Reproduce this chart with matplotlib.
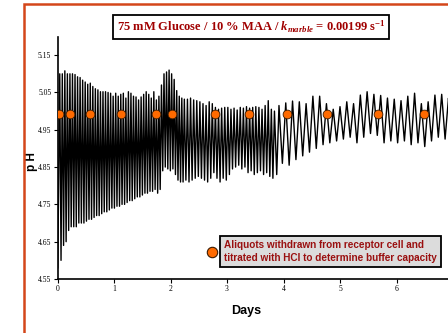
import numpy as np
import matplotlib
matplotlib.use('Agg')
import matplotlib.pyplot as plt
from matplotlib.lines import Line2D
from matplotlib.patches import Rectangle

plt.rcParams['mathtext.fontset'] = 'custom'
plt.rcParams['mathtext.rm'] = 'Liberation Serif:bold'
plt.rcParams['mathtext.it'] = 'Liberation Serif:italic:bold'
plt.rcParams['mathtext.bf'] = 'Liberation Serif:bold'

# cycle peaks (day)
t_peak = [0.04, 0.085, 0.13, 0.175, 0.22, 0.265, 0.31, 0.355, 0.40, 0.445,
          0.49, 0.535, 0.58, 0.625, 0.67, 0.715, 0.76, 0.805, 0.85, 0.895,
          0.94, 0.985, 1.03, 1.075, 1.12, 1.165, 1.21, 1.255, 1.30, 1.345,
          1.39, 1.435, 1.48, 1.525, 1.57, 1.615, 1.66, 1.705, 1.75, 1.795,
          1.84, 1.885, 1.93, 1.975, 2.02, 2.065, 2.11, 2.155, 2.20, 2.245,
          2.30, 2.355, 2.41, 2.465, 2.52, 2.575, 2.63, 2.685, 2.74, 2.795,
          2.85, 2.905, 2.96, 3.015, 3.07, 3.125, 3.18, 3.235, 3.29, 3.345,
          3.40, 3.455, 3.51, 3.565, 3.62, 3.675, 3.73, 3.785, 3.84,
          3.92, 4.04, 4.16, 4.28, 4.40, 4.52, 4.64, 4.76, 4.88, 5.00,
          5.12, 5.24, 5.36, 5.48, 5.60, 5.72, 5.84, 5.96, 6.08, 6.20,
          6.32, 6.44, 6.56, 6.68, 6.80, 6.92]
ph_peak = [5.10, 5.10, 5.108, 5.10, 5.10, 5.10, 5.098, 5.092, 5.09, 5.083,
           5.078, 5.072, 5.075, 5.066, 5.06, 5.057, 5.052, 5.052, 5.052, 5.05,
           5.048, 5.04, 5.048, 5.04, 5.045, 5.048, 5.035, 5.052, 5.048, 5.04,
           5.038, 5.03, 5.038, 5.045, 5.052, 5.045, 5.035, 5.052, 5.03, 5.04,
           5.07, 5.10, 5.105, 5.11, 5.10, 5.085, 5.055, 5.04, 5.035, 5.032,
           5.032, 5.035, 5.03, 5.028, 5.025, 5.02, 5.015, 5.025, 5.02, 5.01,
           5.005, 5.008, 5.01, 5.01, 5.005, 5.008, 5.003, 5.01, 5.008, 5.012,
           5.008, 5.01, 5.012, 5.01, 5.005, 5.015, 5.028, 5.005, 5.0,
           5.015, 5.022, 5.027, 5.025, 5.02, 5.04, 5.04, 5.02, 5.005, 5.012,
           5.025, 5.02, 5.043, 5.052, 5.045, 5.042, 5.035, 5.032, 5.028, 5.04,
           5.048, 5.02, 5.025, 5.043, 5.045, 5.035]
ph_trough = [4.60, 4.64, 4.65, 4.68, 4.69, 4.69, 4.69, 4.70, 4.70, 4.70,
             4.705, 4.71, 4.71, 4.715, 4.72, 4.72, 4.725, 4.73, 4.73, 4.735,
             4.74, 4.74, 4.745, 4.745, 4.75, 4.75, 4.755, 4.76, 4.76, 4.765,
             4.77, 4.77, 4.775, 4.78, 4.78, 4.785, 4.785, 4.79, 4.78, 4.79,
             4.84, 4.85, 4.845, 4.84, 4.845, 4.83, 4.815, 4.81, 4.81, 4.815,
             4.81, 4.815, 4.82, 4.825, 4.82, 4.815, 4.81, 4.82, 4.835, 4.82,
             4.81, 4.82, 4.815, 4.83, 4.845, 4.85, 4.855, 4.845, 4.85, 4.835,
             4.84, 4.83, 4.835, 4.84, 4.83, 4.835, 4.825, 4.82, 4.83,
             4.86, 4.855, 4.87, 4.88, 4.89, 4.90, 4.91, 4.915, 4.92, 4.925,
             4.93, 4.915, 4.93, 4.94, 4.935, 4.915, 4.92, 4.915, 4.92, 4.91,
             4.915, 4.905, 4.92, 4.93, 4.925, 4.93]
t_start, ph_start = 0.005, 4.58

# aliquot withdrawal times
t_aliquot = [0.02, 0.23, 0.57, 1.13, 1.74, 2.02, 2.78, 3.39, 4.07, 4.77, 5.67, 6.49]
ph_aliquot = [4.993] * len(t_aliquot)

# assemble zigzag: peak, then trough halfway to the next peak
tp = np.array(t_peak)
t_tr = np.append((tp[:-1] + tp[1:]) / 2, tp[-1] + 0.06)
t_line = [t_start]
ph_line = [ph_start]
for a, b, c, d in zip(tp, ph_peak, t_tr, ph_trough):
    t_line += [a, c]
    ph_line += [b, d]

fig = plt.figure(figsize=(4.48, 3.33), dpi=100)
ax = fig.add_axes([57.5 / 448, 54 / 333, 395.5 / 448, 242.5 / 333])

ax.plot(t_line, ph_line, color='black', lw=1.0)
ax.plot(t_aliquot, ph_aliquot, 'o', color='#ff6a00', mec='#3a1a00', mew=0.6, ms=6.3, zorder=5)

ax.set_xlim(0, 7)
ax.set_ylim(4.55, 5.20)
ax.set_xticks(range(0, 7))
ax.set_yticks([4.55, 4.65, 4.75, 4.85, 4.95, 5.05, 5.15])
ax.set_yticklabels(['4.55', '4.65', '4.75', '4.85', '4.95', '5.05', '5.15'])
ax.tick_params(direction='out', length=3, width=0.8, labelsize=5.5, pad=1.5)
for lab in ax.get_xticklabels() + ax.get_yticklabels():
    lab.set_family('Liberation Serif')
ax.spines['top'].set_visible(False)
ax.spines['right'].set_visible(False)
ax.spines['left'].set_linewidth(1.2)
ax.spines['bottom'].set_linewidth(1.2)

ax.set_xlabel('Days', family=['Liberation Sans Narrow', 'Liberation Sans'], weight='bold', fontsize=9)
ax.xaxis.set_label_coords((246 - 57.5) / 395.5, -(305 - 279) / 242.5)
ax.set_ylabel('p H', family='Liberation Sans', weight='bold', fontsize=8.5)
ax.yaxis.set_label_coords(-(57.5 - 38) / 395.5, (279 - 162) / 242.5)

fig.text(251 / 448, 1 - 27 / 333,
         r'75 mM Glucose / 10 % MAA / $\mathit{k}_{\mathit{marble}}$ = 0.00199 s$^{\mathbf{-1}}$',
         ha='center', va='center', color='#a00000', family='Liberation Serif', weight='bold', fontsize=9,
         bbox=dict(boxstyle='square,pad=0.3', fc='white', ec='black', lw=1.3))

fig.text(224 / 448, 1 - 251.5 / 333,
         'Aliquots withdrawn from receptor cell and\ntitrated with HCl to determine buffer capacity',
         ha='left', va='center', color='#9a1010', family='Liberation Sans', weight='bold', fontsize=7.2,
         linespacing=1.35,
         bbox=dict(boxstyle='square,pad=0.4', fc='#dcdcdc', ec='black', lw=1.3))
fig.add_artist(Line2D([212 / 448], [1 - 252 / 333], marker='o', ms=7.5, color='#ff6a00',
                      mec='#3a1a00', mew=0.8, transform=fig.transFigure))

fig.add_artist(Rectangle((23.5 / 448, -0.1), 1.0, 1.1 - 3.5 / 333, transform=fig.transFigure,
                         fill=False, ec='#d4461a', lw=1.8))

fig.savefig('out.png', dpi=100)
